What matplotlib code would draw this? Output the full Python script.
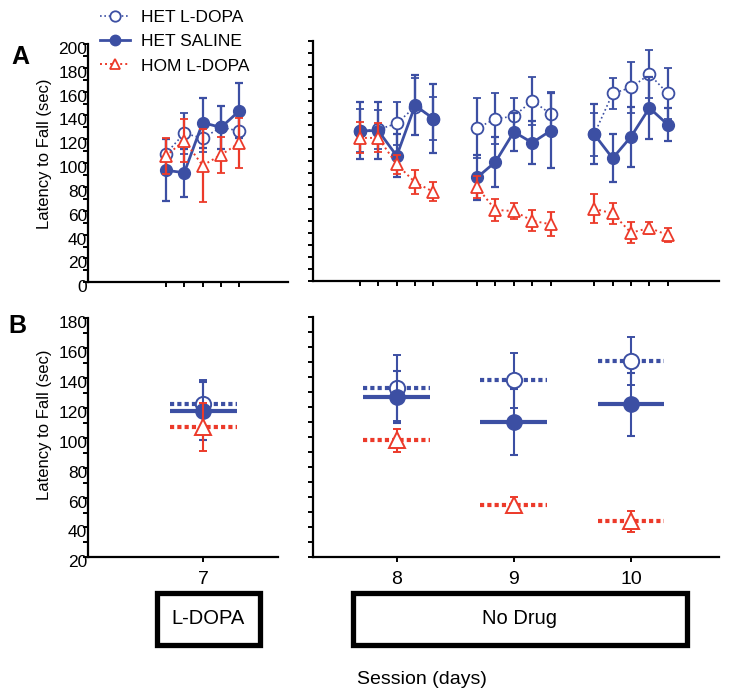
import matplotlib
matplotlib.use('Agg')
import matplotlib.pyplot as plt
import numpy as np
from matplotlib.lines import Line2D
from matplotlib.patches import Rectangle
import matplotlib.transforms as mtrans

plt.rcParams['font.family'] = ['Liberation Sans', 'DejaVu Sans']

W, H = 729, 699
BLUE = '#3c4fa3'
RED = '#ec3a2a'

# ---------------- data ----------------
series_names = ['HET L-DOPA', 'HET SALINE', 'HOM L-DOPA']
trials = [1, 2, 3, 4, 5]
days_a = [7, 8, 9, 10]

# Panel A: per-day trial means (rows = days 7, 8, 9, 10)
het_ldopa_a = [[108, 125, 121, 130, 127],
               [125, 126, 131, 145, 135],
               [127, 135, 137, 150, 139],
               [122, 156, 161, 172, 156]]
het_ldopa_a_err = [[12, 17, 12, 18, 14],
                   [18, 16, 18, 24, 18],
                   [25, 21, 15, 20, 18],
                   [18, 13, 21, 20, 21]]
het_saline_a = [[94, 92, 134, 130, 144],
                [125, 125, 104, 146, 135],
                [86, 99, 124, 115, 125],
                [122, 102, 120, 144, 130]]
het_saline_a_err = [[26, 20, 21, 18, 23],
                    [24, 24, 18, 25, 29],
                    [19, 21, 16, 18, 31],
                    [25, 20, 25, 26, 14]]
hom_ldopa_a = [[106, 119, 98, 107, 117],
               [119, 119, 97, 82, 74],
               [78, 59, 58, 50, 47],
               [60, 56, 40, 44, 38]]
hom_ldopa_a_err = [[15, 18, 31, 15, 21],
                   [13, 12, 8, 10, 8],
                   [9, 9, 7, 9, 10],
                   [12, 9, 9, 5, 6]]

# Panel B: session means
days_b = [7, 8, 9, 10]
het_ldopa_b = [122.5, 133, 138, 151]
het_ldopa_b_err = [16, 22, 18.5, 16]
het_saline_b = [118, 127, 110, 122]
het_saline_b_err = [19.5, 17.5, 22, 21]
hom_ldopa_b = [107.5, 98, 55, 44]
hom_ldopa_b_err = [16, 7.5, 5.5, 7]

TRIAL_STEP = 0.157
HALF_W = 0.285

fig = plt.figure(figsize=(W / 100, H / 100), dpi=100)


def ax_px(x0, x1, ytop, ybot):
    return fig.add_axes([x0 / W, 1 - ybot / H, (x1 - x0) / W, (ybot - ytop) / H])


axA1 = ax_px(88, 288.3, 44, 282.3)
axA2 = ax_px(313, 719, 40.7, 280.7)
axB1 = ax_px(88, 278, 318.5, 557.3)
axB2 = ax_px(313, 719, 317.5, 557.3)

axA1.set_xlim(6.021, 7.731)
axA2.set_xlim(7.2855, 10.751)
axB1.set_xlim(6.016, 7.638)
axB2.set_xlim(7.2855, 10.751)
for a in (axA1, axA2):
    a.set_ylim(0, 200)
for a in (axB1, axB2):
    a.set_ylim(20, 180)

dot_a = (0, (1, 1.6))

# ---------------- panel A ----------------
trial_x_all = []
for i, day in enumerate(days_a):
    ax = axA1 if day == 7 else axA2
    x = day + (np.array(trials) - 3) * TRIAL_STEP
    trial_x_all.append(x)
    ax.errorbar(x, het_ldopa_a[i], yerr=het_ldopa_a_err[i], color=BLUE, ls=dot_a, lw=1.2,
                marker='o', ms=8.5, mfc='white', mec=BLUE, mew=1.3,
                elinewidth=1.6, capsize=3, capthick=1.6, zorder=3)
    ax.errorbar(x, het_saline_a[i], yerr=het_saline_a_err[i], color=BLUE, ls='-', lw=2,
                marker='o', ms=8.5, mfc=BLUE, mec=BLUE,
                elinewidth=1.6, capsize=3, capthick=1.6, zorder=4)
    ax.errorbar(x, hom_ldopa_a[i], yerr=hom_ldopa_a_err[i], color=RED, ls=dot_a, lw=1.4,
                marker='^', ms=8.5, mfc='white', mec=RED, mew=1.3,
                elinewidth=1.6, capsize=3, capthick=1.6, zorder=5)

axA1.set_xticks(trial_x_all[0])
axA2.set_xticks(np.concatenate(trial_x_all[1:]))
axA1.set_xticklabels([])
axA2.set_xticklabels([])

# ---------------- panel B ----------------
dot_b = (0, (1, 0.75))
for i, day in enumerate(days_b):
    ax = axB1 if day == 7 else axB2
    ax.hlines(het_ldopa_b[i], day - HALF_W, day + HALF_W, color=BLUE, lw=3, linestyles=[dot_b],
              capstyle='butt', zorder=2)
    ax.hlines(het_saline_b[i], day - HALF_W, day + HALF_W, color=BLUE, lw=3, zorder=2)
    ax.hlines(hom_ldopa_b[i], day - HALF_W, day + HALF_W, color=RED, lw=3, linestyles=[dot_b],
              capstyle='butt', zorder=2)
    ax.errorbar(day, het_ldopa_b[i], yerr=het_ldopa_b_err[i], color=BLUE, marker='o', ms=11,
                mfc='white', mec=BLUE, mew=1.4, elinewidth=1.5, capsize=3, capthick=1.5, zorder=3)
    ax.errorbar(day, het_saline_b[i], yerr=het_saline_b_err[i], color=BLUE, marker='o', ms=11,
                mfc=BLUE, mec=BLUE, elinewidth=1.5, capsize=3, capthick=1.5, zorder=4)
    ax.errorbar(day, hom_ldopa_b[i], yerr=hom_ldopa_b_err[i], color=RED, marker='^', ms=11,
                mfc='white', mec=RED, mew=1.4, elinewidth=1.5, capsize=3, capthick=1.5, zorder=5)

axB1.set_xticks([7])
axB1.set_xticklabels(['7'])
axB2.set_xticks([8, 9, 10])
axB2.set_xticklabels(['8', '9', '10'])

# ---------------- axes styling ----------------
for a in (axA1, axA2, axB1, axB2):
    for s in ('top', 'right'):
        a.spines[s].set_visible(False)
    for s in ('left', 'bottom'):
        a.spines[s].set_linewidth(1.6)
    a.tick_params(axis='both', which='both', direction='out', length=3.5, width=1.4)
    a.set_facecolor('none')

axA1.set_yticks(np.arange(0, 201, 20))
axA1.set_yticks(np.arange(10, 200, 20), minor=True)
axA2.set_yticks(np.arange(0, 201, 10))
axA2.set_yticklabels([])
axB1.set_yticks(np.arange(20, 181, 20))
axB1.set_yticks(np.arange(30, 180, 20), minor=True)
axB2.set_yticks(np.arange(20, 181, 10))
axB2.set_yticklabels([])

for a in (axA1, axB1):
    a.tick_params(axis='y', labelsize=12.5, pad=-3)
for a in (axB1, axB2):
    a.tick_params(axis='x', labelsize=14, pad=6.5)

off = mtrans.ScaledTranslation(0, -0.04, fig.dpi_scale_trans)
for a in (axA1, axB1):
    for lab in a.get_yticklabels():
        lab.set_transform(lab.get_transform() + off)

# ---------------- text ----------------
fig.text(45 / W, 1 - 154 / H, 'Latency to Fall (sec)', rotation=90, ha='center', va='center', fontsize=12)
fig.text(45 / W, 1 - 425 / H, 'Latency to Fall (sec)', rotation=90, ha='center', va='center', fontsize=12)
fig.text(20 / W, 1 - 57 / H, 'A', ha='center', va='center', fontsize=18, fontweight='bold')
fig.text(17 / W, 1 - 326 / H, 'B', ha='center', va='center', fontsize=18, fontweight='bold')
fig.text(421.5 / W, 1 - 680 / H, 'Session (days)', ha='center', va='center', fontsize=14)

# condition boxes
for (x0, x1), label in [((156.8, 260.2), 'L-DOPA'), ((353.2, 686.8), 'No Drug')]:
    y0, y1 = 592.5, 644.5
    fig.patches.append(Rectangle((x0 / W, 1 - y1 / H), (x1 - x0) / W, (y1 - y0) / H,
                                 transform=fig.transFigure, fill=False, lw=3.8, ec='black',
                                 joinstyle='miter'))
    fig.text((x0 + x1) / 2 / W, 1 - 619 / H, label, ha='center', va='center', fontsize=14.5)

# legend
handles = [
    Line2D([], [], color=BLUE, ls=dot_a, lw=1.2, marker='o', ms=7.5, mfc='white', mec=BLUE, mew=1.3),
    Line2D([], [], color=BLUE, ls='-', lw=2, marker='o', ms=7.5, mfc=BLUE, mec=BLUE),
    Line2D([], [], color=RED, ls=dot_a, lw=1.4, marker='^', ms=7.5, mfc='white', mec=RED, mew=1.3),
]
fig.legend(handles, series_names, loc='upper left', bbox_to_anchor=(100 / W, 1 - 10 / H),
           frameon=False, fontsize=12.5, handlelength=1.73, handletextpad=0.62,
           labelspacing=0.52, borderaxespad=0, borderpad=0)

fig.savefig('out.png', dpi=100)
